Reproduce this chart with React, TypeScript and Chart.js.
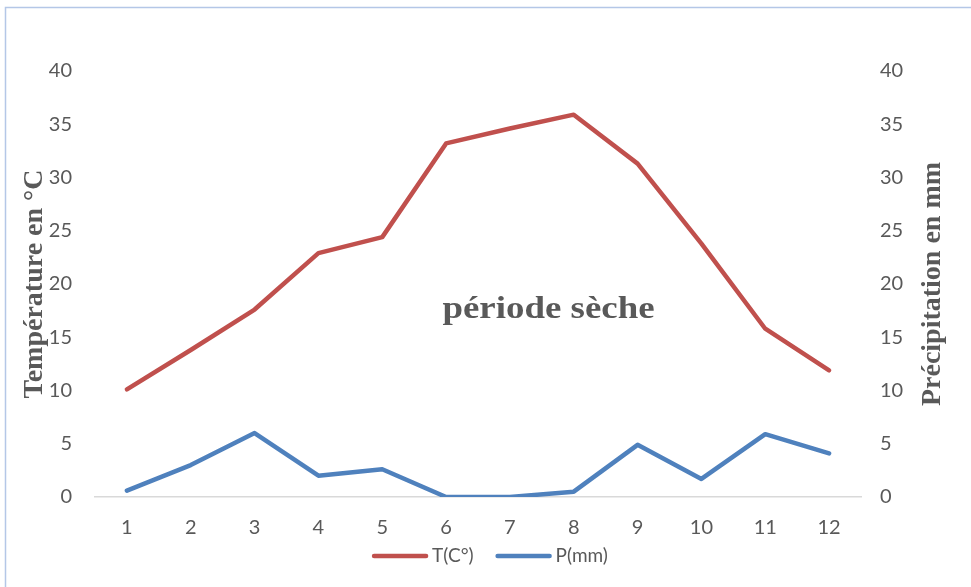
import { useEffect, useRef } from 'react';
import { Chart, registerables } from 'chart.js';

Chart.register(...registerables);

// Monthly climate data
const months = ['1', '2', '3', '4', '5', '6', '7', '8', '9', '10', '11', '12'];
const temperature = [10.1, 13.8, 17.6, 22.9, 24.4, 33.2, 34.6, 35.9, 31.3, 23.8, 15.8, 11.9];
const precipitation = [0.6, 3.0, 6.0, 2.0, 2.6, 0, 0, 0.5, 4.9, 1.7, 5.9, 4.1];

const leftTitle = 'Température en °C';
const rightTitle = 'Précipitation en mm';
const dryLabel = 'période sèche';

const GREY = '#595959';
const SANS = 'Lato, "Noto Sans", sans-serif';
const TICK_FONT = { family: SANS, size: 20 };
const SERIF = '"Liberation Serif", "Times New Roman", serif';

const decorations = {
  id: 'decorations',
  beforeDraw(chart: any) {
    const { ctx, width, height } = chart;
    ctx.save();
    ctx.fillStyle = '#ffffff';
    ctx.fillRect(0, 0, width, height);
    ctx.strokeStyle = '#b4c7e7';
    ctx.lineWidth = 1.5;
    ctx.strokeRect(5.5, 7.5, width + 20, height + 20);
    ctx.restore();
  },
  afterDraw(chart: any) {
    const { ctx, chartArea } = chart;
    const midY = (chartArea.top + chartArea.bottom) / 2;
    ctx.save();
    ctx.fillStyle = GREY;
    ctx.font = `bold 28px ${SERIF}`;
    ctx.textAlign = 'center';
    ctx.textBaseline = 'alphabetic';

    // left axis title
    ctx.save();
    ctx.translate(chartArea.left - 53, midY);
    ctx.rotate(-Math.PI / 2);
    ctx.fillText(leftTitle, 0, 0);
    ctx.restore();

    // right axis title, reading upwards too
    ctx.save();
    ctx.translate(chartArea.right + 79, midY);
    ctx.rotate(-Math.PI / 2);
    ctx.fillText(rightTitle, 0, 0);
    ctx.restore();

    // dry season label
    ctx.save();
    ctx.font = `bold 31px ${SERIF}`;
    ctx.translate(chartArea.left + 453.5, chartArea.top + 247);
    ctx.scale(1.19, 1);
    ctx.fillText(dryLabel, 0, 0);
    ctx.restore();

    // legend: a line sample followed by the series name
    const lineLen = 52;
    const gap = 6;
    const itemGap = 24;
    ctx.font = `19px ${SANS}`;
    ctx.textAlign = 'left';
    ctx.textBaseline = 'middle';
    const items = chart.data.datasets.map((ds: any) => ({
      label: ds.label as string,
      color: ds.borderColor as string,
      w: lineLen + gap + ctx.measureText(ds.label).width,
    }));
    const total = items.reduce((s: number, it: any) => s + it.w, 0) + itemGap * (items.length - 1);
    let x = (chartArea.left + chartArea.right) / 2 + 13 - total / 2;
    const y = chartArea.bottom + 59;
    for (const it of items) {
      ctx.strokeStyle = it.color;
      ctx.lineWidth = 4.5;
      ctx.lineCap = 'round';
      ctx.beginPath();
      ctx.moveTo(x, y);
      ctx.lineTo(x + lineLen, y);
      ctx.stroke();
      ctx.fillStyle = GREY;
      ctx.fillText(it.label, x + lineLen + gap, y);
      x += it.w + itemGap;
    }

    ctx.restore();
  },
};

export default function App() {
  const canvasRef = useRef<HTMLCanvasElement | null>(null);

  useEffect(() => {
    const canvas = canvasRef.current;
    if (!canvas) return;
    const chart = new Chart(canvas, {
      type: 'line',
      data: {
        labels: months,
        datasets: [
          {
            label: 'T(C°)',
            data: temperature,
            yAxisID: 'y',
            borderColor: '#c0504d',
            backgroundColor: '#c0504d',
            borderWidth: 4.5,
            borderCapStyle: 'round',
            borderJoinStyle: 'round',
            pointRadius: 0,
            tension: 0,
          },
          {
            label: 'P(mm)',
            data: precipitation,
            yAxisID: 'y1',
            borderColor: '#4f81bd',
            backgroundColor: '#4f81bd',
            borderWidth: 4.5,
            borderCapStyle: 'round',
            borderJoinStyle: 'round',
            pointRadius: 0,
            tension: 0,
          },
        ],
      },
      options: {
        responsive: false,
        animation: false,
        devicePixelRatio: 1,
        layout: { padding: { top: 71, left: 0, right: 0, bottom: 0 } },
        plugins: {
          tooltip: { enabled: false },
          legend: { display: false },
        },
        scales: {
          x: {
            offset: true,
            grid: { display: false, drawTicks: false },
            border: { display: true, color: '#d9d9d9', width: 1.5 },
            ticks: { color: GREY, font: TICK_FONT, padding: 19, maxRotation: 0 },
            afterFit(scale: any) {
              scale.height = 90;
            },
          },
          y: {
            position: 'left',
            min: 0,
            max: 40,
            grid: { display: false, drawTicks: false },
            border: { display: false },
            ticks: { stepSize: 5, color: GREY, font: TICK_FONT, padding: 23 },
            afterFit(scale: any) {
              scale.width = 95;
            },
          },
          y1: {
            position: 'right',
            min: 0,
            max: 40,
            grid: { display: false, drawTicks: false },
            border: { display: false },
            ticks: { stepSize: 5, color: GREY, font: TICK_FONT, padding: 19 },
            afterFit(scale: any) {
              scale.width = 110;
            },
          },
        },
      },
      plugins: [decorations],
    } as any);
    return () => chart.destroy();
  }, []);

  return (
    <div style={{ position: 'absolute', left: 0, top: 0, width: 971, height: 587 }}>
      <canvas ref={canvasRef} width={971} height={587} />
    </div>
  );
}
